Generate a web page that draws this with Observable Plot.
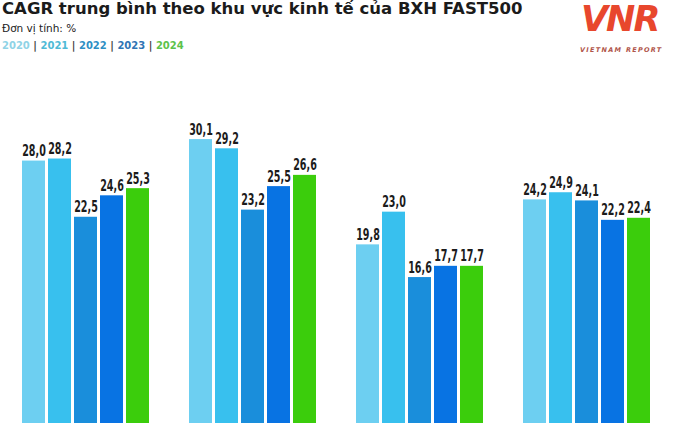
<!DOCTYPE html>
<html>
<head>
<meta charset="utf-8">
<script src="https://cdn.jsdelivr.net/npm/d3@7"></script>
<script src="https://cdn.jsdelivr.net/npm/@observablehq/plot@0.6"></script>
<style>
  html, body { margin: 0; padding: 0; background: #fff; overflow: hidden; }
  #wrap { position: relative; width: 680px; height: 423px; }
  #header { position: relative; width: 680px; height: 60px; }
  .t { position: absolute; white-space: nowrap; font-family: "DejaVu Sans", sans-serif; }
  #title { left: 2px; top: 0px; font-size: 16.5px; font-weight: bold; color: #1b1b1b; line-height: 18px; }
  #sub { left: 2px; top: 22px; font-size: 10.5px; color: #222; line-height: 13px; }
  #legend { left: 2px; top: 39px; font-size: 10px; font-weight: bold; line-height: 13px; color: #333; }
  #logo { left: 581px; top: 1px; font-size: 35px; font-weight: bold; font-style: italic; color: #e8472d; letter-spacing: -2px; line-height: 36px; }
  #logosub { left: 580px; top: 46px; font-size: 6.5px; font-weight: bold; font-style: italic; color: #b0554a; letter-spacing: 1.3px; line-height: 8px; }
</style>
</head>
<body>
<div id="wrap">
  <div id="header">
    <div class="t" id="title"></div>
    <div class="t" id="sub"></div>
    <div class="t" id="legend"></div>
    <div class="t" id="logo">VNR</div>
    <div class="t" id="logosub">VIETNAM REPORT</div>
  </div>
  <div id="chart"></div>
</div>
<script>
const titleText = "CAGR trung bình theo khu vực kinh tế của BXH FAST500";
const unitText = "Đơn vị tính: %";
const regions = ["Khu vực 1", "Khu vực 2", "Khu vực 3", "Khu vực 4"];
const years = ["2020", "2021", "2022", "2023", "2024"];
const colors = ["#6dcff1", "#38c0ee", "#1a8edb", "#0873e3", "#3bcd0c"];
const legendColors = ["#8fd3e6", "#4fbad6", "#2f8fc4", "#2f74b4", "#5cc24a"];
const values2020 = [28.0, 30.1, 19.8, 24.2];
const values2021 = [28.2, 29.2, 23.0, 24.9];
const values2022 = [22.5, 23.2, 16.6, 24.1];
const values2023 = [24.6, 25.5, 17.7, 22.2];
const values2024 = [25.3, 26.6, 17.7, 22.4];

document.getElementById("title").textContent = titleText;
document.getElementById("sub").textContent = unitText;
const leg = document.getElementById("legend");
years.forEach((y, i) => {
  const s = document.createElement("span");
  s.textContent = y;
  s.style.color = legendColors[i];
  leg.appendChild(s);
  if (i < years.length - 1) {
    const sep = document.createElement("span");
    sep.textContent = " | ";
    sep.style.color = "#444";
    leg.appendChild(sep);
  }
});

const series = [values2020, values2021, values2022, values2023, values2024];
const data = [];
regions.forEach((r, ri) => {
  years.forEach((y, yi) => {
    data.push({region: r, year: y, value: series[yi][ri]});
  });
});

const fmt = v => d3.format(".1f")(v).replace(".", ",");

const chart = Plot.plot({
  width: 680,
  height: 363,
  marginTop: 0,
  marginBottom: 0,
  marginLeft: 20,
  marginRight: 28,
  fx: {domain: regions, paddingInner: 0.216, paddingOuter: 0, axis: null, label: null},
  x: {domain: years, paddingInner: 0.1, paddingOuter: 0, axis: null},
  y: {domain: [2.32, 37.84], axis: null},
  color: {domain: years, range: colors},
  style: {background: "#fff", overflow: "hidden"},
  marks: [
    Plot.barY(data, {fx: "region", x: "year", y: "value", fill: "year", clip: true}),
    Plot.text(data, {
      fx: "region", x: "year", y: "value", text: d => fmt(d.value),
      lineAnchor: "bottom", dy: -5,
      fontSize: 16, fontWeight: "bold",
      fontFamily: "'DejaVu Sans', sans-serif",
      fill: "#1c1c1c",
      className: "lbl"
    })
  ]
});
document.getElementById("chart").appendChild(chart);

// condense the value labels horizontally (no condensed font installed)
const SX = 0.6;
chart.querySelectorAll("g.lbl text").forEach(t => {
  const tr = t.getAttribute("transform") || "";
  if (t.hasAttribute("x")) {
    const x = +t.getAttribute("x");
    t.setAttribute("x", x / SX);
  }
  t.setAttribute("transform", (tr + ` scale(${SX},1)`).trim());
});
</script>
</body>
</html>
